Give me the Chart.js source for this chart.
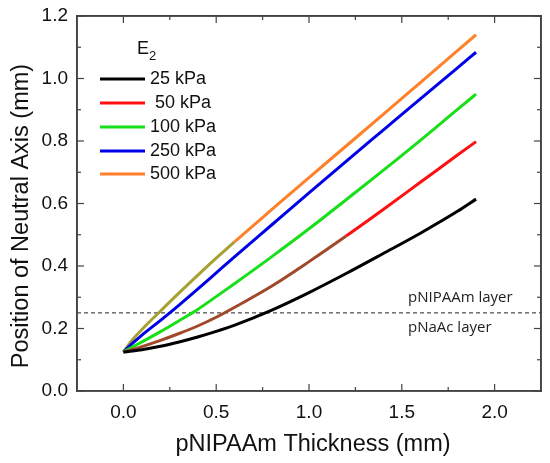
<!DOCTYPE html>
<html>
<head>
<meta charset="utf-8">
<script src="https://cdn.jsdelivr.net/npm/chart.js@4.4.0/dist/chart.umd.min.js"></script>
<style>
  html, body { margin: 0; padding: 0; background: #fff; }
  #wrap { width: 550px; height: 463px; }
</style>
</head>
<body>
<div id="wrap"><canvas id="chart" width="550" height="463"></canvas></div>
<script>
// thickness of the pNIPAAm layer (mm)
const thickness = [0, 0.05, 0.1, 0.2, 0.3, 0.4, 0.5, 0.6, 0.8, 1.0, 1.2, 1.4, 1.6, 1.8, 1.9];

// position of the neutral axis (mm), one list per E2
const na25  = [0.125, 0.128, 0.132, 0.143, 0.157, 0.173, 0.191, 0.211, 0.259, 0.315, 0.376, 0.440, 0.505, 0.575, 0.614];
const na50  = [0.125, 0.133, 0.142, 0.162, 0.184, 0.208, 0.236, 0.268, 0.336, 0.414, 0.496, 0.581, 0.668, 0.755, 0.798];
const na100 = [0.125, 0.141, 0.157, 0.190, 0.225, 0.261, 0.302, 0.344, 0.430, 0.519, 0.612, 0.706, 0.802, 0.901, 0.950];
const na250 = [0.125, 0.153, 0.179, 0.226, 0.275, 0.326, 0.378, 0.430, 0.532, 0.634, 0.735, 0.835, 0.935, 1.034, 1.084];
const na500 = [0.125, 0.165, 0.197, 0.256, 0.314, 0.370, 0.425, 0.478, 0.581, 0.683, 0.784, 0.885, 0.987, 1.089, 1.140];

const labels = ['25 kPa', ' 50 kPa', '100 kPa', '250 kPa', '500 kPa'];
const colors = ['#000000', '#ff1010', '#18e018', '#0000e8', '#ff8028'];

// layer boundary
const boundaryX = [-0.25, 2.25];
const boundaryY = [0.25, 0.25];

const xTicks = [0, 0.5, 1.0, 1.5, 2.0];
const xMinor = [0.25, 0.75, 1.25, 1.75];
const yTicks = [0, 0.2, 0.4, 0.6, 0.8, 1.0, 1.2];
const yMinor = [0.1, 0.3, 0.5, 0.7, 0.9, 1.1];

const pts = (xs, ys) => xs.map((x, i) => ({x: x, y: ys[i]}));
const series = [na25, na50, na100, na250, na500];

const FONT = '"Liberation Sans", Arial, sans-serif';
const AXIS = '#444';

// the scan looks muddy near the origin for two of the curves
const tint = {1: {until: 1.2, color: '#a0482a'}, 4: {until: 0.6, color: '#a8a030'}};

const datasets = series.map((ys, i) => ({
  label: labels[i],
  data: pts(thickness, ys),
  borderColor: colors[i],
  borderWidth: 3,
  pointRadius: 0,
  cubicInterpolationMode: 'monotone',
  segment: tint[i] ? {
    borderColor: ctx => ctx.p1.parsed.x <= tint[i].until ? tint[i].color : undefined
  } : undefined
}));
datasets.push({
  label: 'boundary',
  data: pts(boundaryX, boundaryY),
  borderColor: '#222',
  borderWidth: 1,
  borderDash: [4, 3],
  pointRadius: 0
});

// frame, ticks, legend, layer notes and axis titles
const notes = {
  id: 'notes',
  afterDraw(chart) {
    const ctx = chart.ctx;
    const sx = chart.scales.x, sy = chart.scales.y;
    const L = sx.getPixelForValue(sx.min), R = sx.getPixelForValue(sx.max);
    const T = sy.getPixelForValue(sy.max), B = sy.getPixelForValue(sy.min);
    ctx.save();

    // box and inward ticks, drawn as thin filled bars
    ctx.fillStyle = AXIS;
    ctx.fillRect(L - 0.8, T - 0.8, R - L + 1.6, 1.6);
    ctx.fillRect(L - 0.8, B - 0.8, R - L + 1.6, 1.6);
    ctx.fillRect(L - 0.8, T - 0.8, 1.6, B - T + 1.6);
    ctx.fillRect(R - 0.8, T - 0.8, 1.6, B - T + 1.6);
    xTicks.concat(xMinor).forEach((v, i) => {
      const len = i < xTicks.length ? 7 : 4;
      const px = sx.getPixelForValue(v);
      ctx.fillRect(px - 0.6, B - len, 1.2, len);
      ctx.fillRect(px - 0.6, T, 1.2, len);
    });
    yTicks.concat(yMinor).forEach((v, i) => {
      const len = i < yTicks.length ? 7 : 4;
      const py = sy.getPixelForValue(v);
      ctx.fillRect(L, py - 0.6, len, 1.2);
      ctx.fillRect(R - len, py - 0.6, len, 1.2);
    });

    // legend
    ctx.fillStyle = '#111';
    ctx.textBaseline = 'middle';
    ctx.textAlign = 'left';
    ctx.font = '18px ' + FONT;
    ctx.fillText('E', 137, 49);
    ctx.font = '13px ' + FONT;
    ctx.fillText('2', 149, 56);
    const rows = [79, 103, 127, 151, 174];
    labels.forEach((t, i) => {
      ctx.strokeStyle = colors[i];
      ctx.lineWidth = 3;
      ctx.beginPath();
      ctx.moveTo(100, rows[i]);
      ctx.lineTo(145, rows[i]);
      ctx.stroke();
      ctx.font = '18px ' + FONT;
      ctx.fillText(t, 150, rows[i]);
    });

    // layer notes
    ctx.fillStyle = '#222';
    ctx.font = '15px "Open Sans", sans-serif';
    ctx.fillText('pNIPAAm layer', 408, 298);
    ctx.fillText('pNaAc layer', 408, 328);

    // axis titles
    ctx.fillStyle = '#111';
    ctx.font = '23.5px ' + FONT;
    ctx.textAlign = 'center';
    ctx.fillText('pNIPAAm Thickness (mm)', 313, 445);
    ctx.translate(22, 216);
    ctx.rotate(-Math.PI / 2);
    ctx.fillText('Position of Neutral Axis (mm)', 0, 0);
    ctx.restore();
  }
};

const edge = {display: true, color: AXIS, width: 1.6};

new Chart(document.getElementById('chart'), {
  type: 'line',
  data: {datasets: datasets},
  options: {
    responsive: false,
    animation: false,
    layout: {padding: {left: 0, right: 9, top: 16, bottom: 0}},
    plugins: {legend: {display: false}, tooltip: {enabled: false}},
    scales: {
      x: {
        type: 'linear', min: -0.25, max: 2.25,
        grid: {display: false, drawTicks: false},
        border: edge,
        afterBuildTicks: s => { s.ticks = xTicks.map(v => ({value: v})); },
        afterFit: s => { s.height = 72; },
        ticks: {
          padding: 10, color: '#111', font: {family: FONT, size: 19},
          callback: v => v.toFixed(1)
        }
      },
      y: {
        type: 'linear', min: 0, max: 1.2,
        grid: {display: false, drawTicks: false},
        border: edge,
        afterBuildTicks: s => { s.ticks = yTicks.map(v => ({value: v})); },
        afterFit: s => { s.width = 77; s.paddingTop = 0; s.paddingBottom = 0; },
        ticks: {
          padding: 9, color: '#111', font: {family: FONT, size: 19},
          callback: v => v.toFixed(1)
        }
      },
      xTop: {
        type: 'linear', position: 'top', min: -0.25, max: 2.25,
        grid: {display: false, drawTicks: false},
        border: edge,
        ticks: {display: false},
        afterFit: s => { s.height = 0; s.paddingLeft = 0; s.paddingRight = 0; }
      },
      yRight: {
        type: 'linear', position: 'right', min: 0, max: 1.2,
        grid: {display: false, drawTicks: false},
        border: edge,
        ticks: {display: false},
        afterFit: s => { s.width = 0; s.paddingTop = 0; s.paddingBottom = 0; }
      }
    }
  },
  plugins: [notes]
});
</script>
</body>
</html>
